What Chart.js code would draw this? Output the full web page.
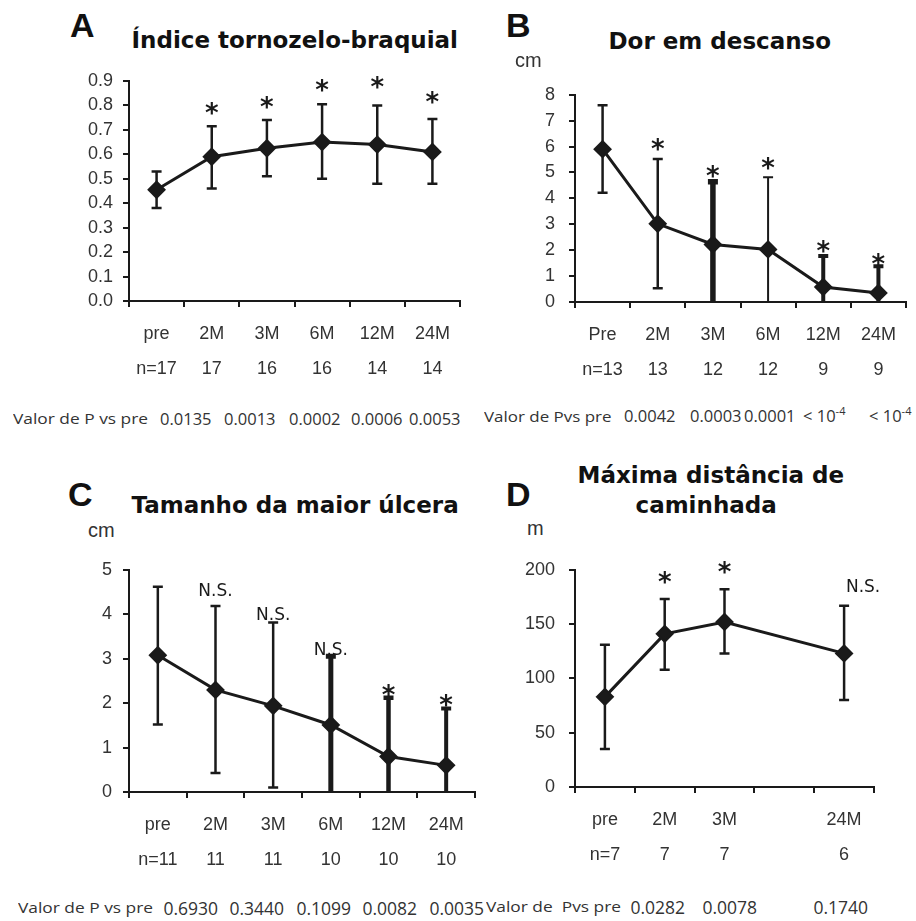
<!DOCTYPE html>
<html>
<head>
<meta charset="utf-8">
<script src="https://cdn.jsdelivr.net/npm/chart.js@4.4.1/dist/chart.umd.min.js"></script>
<style>
  body { margin: 0; background: #fff; width: 916px; height: 921px; position: relative; overflow: hidden; color: #111; }
  canvas { position: absolute; }
  .t { position: absolute; white-space: nowrap; height: 20px; }
  .letter { font: bold 34px/20px "Liberation Sans", Arial, sans-serif; }
  .title { font: bold 23px/20px "DejaVu Sans", sans-serif; }
  .unit { font: 20px/20px "Liberation Sans", Arial, sans-serif; color: #333; }
  .plab { font: 14px/20px "Open Sans", sans-serif; color: #333; transform-origin: left center; }
  .pval { font: 17.5px/20px "Open Sans", sans-serif; color: #333; }
  .pval.small { font-size: 16.5px; }
  .pval sup { font-size: 11px; vertical-align: 7px; line-height: 0; }
</style>
</head>
<body>
<canvas id="chartA" width="430" height="330" style="left:40px;top:60px"></canvas>
<canvas id="chartB" width="426" height="320" style="left:490px;top:70px"></canvas>
<canvas id="chartC" width="445" height="340" style="left:40px;top:545px"></canvas>
<canvas id="chartD" width="400" height="340" style="left:490px;top:545px"></canvas>
<script>
// A - Índice tornozelo-braquial
const catsA = ["pre", "2M", "3M", "6M", "12M", "24M"];
const nA = ["n=17", "17", "16", "16", "14", "14"];
const meanA = [0.455, 0.59, 0.625, 0.65, 0.64, 0.61];
const hiA = [0.53, 0.715, 0.74, 0.805, 0.80, 0.745];
const loA = [0.38, 0.46, 0.51, 0.50, 0.48, 0.48];
const sigA = ["", "*", "*", "*", "*", "*"];
const yTicksA = ["0.0", "0.1", "0.2", "0.3", "0.4", "0.5", "0.6", "0.7", "0.8", "0.9"];
const pA = ["0.0135", "0.0013", "0.0002", "0.0006", "0.0053"];

// B - Dor em descanso
const catsB = ["Pre", "2M", "3M", "6M", "12M", "24M"];
const nB = ["n=13", "13", "12", "12", "9", "9"];
const meanB = [5.9, 3.02, 2.22, 2.03, 0.58, 0.35];
const hiB = [7.6, 5.52, 4.64, 4.82, 1.78, 1.38];
const loB = [4.22, 0.53, 0, 0, 0, 0];
const sigB = ["", "*", "*", "*", "*", "*"];
const yTicksB = ["0", "1", "2", "3", "4", "5", "6", "7", "8"];
const pB = ["0.0042", "0.0003", "0.0001", "&lt; 10<sup>-4</sup>", "&lt; 10<sup>-4</sup>"];

// C - Tamanho da maior úlcera
const catsC = ["pre", "2M", "3M", "6M", "12M", "24M"];
const nC = ["n=11", "11", "11", "10", "10", "10"];
const meanC = [3.08, 2.3, 1.94, 1.51, 0.8, 0.6];
const hiC = [4.62, 4.19, 3.82, 3.06, 2.12, 1.88];
const loC = [1.52, 0.43, 0.1, 0, 0, 0];
const sigC = ["", "N.S.", "N.S.", "N.S.", "*", "*"];
const yTicksC = ["0", "1", "2", "3", "4", "5"];
const pC = ["0.6930", "0.3440", "0.1099", "0.0082", "0.0035"];

// D - Máxima distância de caminhada
const catsD = ["pre", "2M", "3M", "", "24M"];
const nD = ["n=7", "7", "7", "", "6"];
const meanD = [83, 141, 152, null, 123];
const hiD = [131, 173, 182, null, 167];
const loD = [35, 108, 123, null, 80];
const sigD = ["", "*", "*", "", "N.S."];
const yTicksD = ["0", "50", "100", "150", "200"];
const pD = ["0.0282", "0.0078", "0.1740"];

const INK = "#1a1a1a";
const LABEL = "#333";

// error bars under the line, significance marks above them
const marks = {
  id: "marks",
  beforeDatasetsDraw(chart, args, o) {
    const { ctx } = chart;
    const x = chart.scales.x, y = chart.scales.y;
    ctx.save();
    ctx.strokeStyle = INK;
    o.hi.forEach((h, i) => {
      if (h == null) return;
      const px = x.getPixelForValue(i);
      const top = y.getPixelForValue(h);
      const bot = y.getPixelForValue(o.lo[i]);
      ctx.lineWidth = o.widths[i];
      ctx.beginPath();
      ctx.moveTo(px, top); ctx.lineTo(px, bot);
      ctx.moveTo(px - 5, top); ctx.lineTo(px + 5, top);
      if (o.lo[i] > 0) { ctx.moveTo(px - 5, bot); ctx.lineTo(px + 5, bot); }
      ctx.stroke();
    });
    ctx.restore();
  },
  afterDatasetsDraw(chart, args, o) {
    const { ctx } = chart;
    const x = chart.scales.x, y = chart.scales.y;
    ctx.save();
    ctx.fillStyle = INK;
    ctx.textAlign = "center";
    ctx.textBaseline = "alphabetic";
    o.sig.forEach((s, i) => {
      if (!s) return;
      ctx.font = s === "*" ? 'bold 26px "DejaVu Sans"' : '17px "DejaVu Sans"';
      const m = ctx.measureText(s);
      const cx = x.getPixelForValue(i) + (o.dx ? o.dx[i] : 0);
      const cy = y.getPixelForValue(o.hi[i]) - o.gap[i];
      ctx.fillText(s, cx, cy + (m.actualBoundingBoxAscent - m.actualBoundingBoxDescent) / 2);
    });
    ctx.restore();
  }
};

function makeChart(id, c) {
  const yVals = c.yTicks.map(Number);
  return new Chart(document.getElementById(id), {
    type: "line",
    data: {
      labels: c.cats.map((k, i) => [k, c.n[i]]),
      datasets: [{
        data: c.mean,
        borderColor: INK,
        borderWidth: 3,
        pointStyle: "rectRot",
        pointRadius: 8,
        pointBackgroundColor: INK,
        pointBorderColor: INK,
        pointBorderWidth: 2,
        tension: 0,
        spanGaps: true,
        clip: false
      }]
    },
    options: {
      responsive: false,
      animation: false,
      devicePixelRatio: 1,
      layout: { padding: { top: c.padTop, right: c.padRight, left: 0, bottom: 0 } },
      plugins: {
        legend: { display: false },
        tooltip: { enabled: false },
        marks: { hi: c.hi, lo: c.lo, widths: c.widths, sig: c.sig, gap: c.gap, dx: c.dx }
      },
      scales: {
        x: {
          type: "category",
          offset: true,
          grid: { display: true, drawOnChartArea: false, drawTicks: true, tickLength: 6, color: INK, lineWidth: 2, offset: true },
          border: { display: true, color: INK, width: 2 },
          ticks: {
            color: LABEL, padding: 10, autoSkip: false, maxRotation: 0,
            font: { family: '"Liberation Sans", Arial, sans-serif', size: 18, lineHeight: 35 / 18 }
          },
          afterFit(s) { s.height = c.xH; }
        },
        y: {
          min: yVals[0],
          max: yVals[yVals.length - 1],
          grid: { display: true, drawOnChartArea: false, drawTicks: true, tickLength: 6, color: INK, lineWidth: 2 },
          border: { display: true, color: INK, width: 2 },
          afterBuildTicks(s) { s.ticks = yVals.map(v => ({ value: v })); },
          ticks: {
            color: LABEL, padding: c.yPad, autoSkip: false,
            font: { family: '"Liberation Sans", Arial, sans-serif', size: 18 },
            callback: (v, i) => c.yTicks[i]
          },
          afterFit(s) { s.width = c.yW; }
        }
      }
    },
    plugins: [marks]
  });
}

makeChart("chartA", {
  cats: catsA, n: nA, mean: meanA, hi: hiA, lo: loA, sig: sigA, yTicks: yTicksA,
  widths: [2.5, 2.5, 2.5, 2.5, 2.5, 2.5], gap: [0, 18, 18, 19, 23, 21],
  yW: 89, xH: 89, padTop: 21, padRight: 10, yPad: 10
});
makeChart("chartB", {
  cats: catsB, n: nB, mean: meanB, hi: hiB, lo: loB, sig: sigB, yTicks: yTicksB,
  widths: [2.5, 2.5, 5.5, 2, 4, 4], gap: [0, 15, 10, 14, 9, 7],
  yW: 85, xH: 88, padTop: 19, padRight: 1, yPad: 14
});
makeChart("chartC", {
  cats: catsC, n: nC, mean: meanC, hi: hiC, lo: loC, sig: sigC, yTicks: yTicksC,
  widths: [2.5, 2.5, 2.5, 5, 4.5, 4], gap: [0, 16, 9, 8, 7, 8],
  yW: 89, xH: 93, padTop: 25, padRight: 7, yPad: 11
});
makeChart("chartD", {
  cats: catsD, n: nD, mean: meanD, hi: hiD, lo: loD, sig: sigD, yTicks: yTicksD,
  widths: [2.5, 2.5, 2.5, 2.5, 2.5], gap: [0, 22, 22, 0, 20], dx: [0, 0, 0, 0, 19],
  yW: 85, xH: 98, padTop: 23, padRight: 16, yPad: 14
});

// page text: letters, titles, units and P-value rows
function txt(html, cls, x, cy, align, fitW) {
  const el = document.createElement("div");
  el.className = "t " + cls;
  el.innerHTML = html;
  el.style.top = (cy - 10) + "px";
  el.style.left = x + "px";
  document.body.appendChild(el);
  if (align === "center") el.style.left = (x - el.offsetWidth / 2) + "px";
  if (fitW) el.style.transform = "scaleX(" + (fitW / el.offsetWidth) + ")";
  return el;
}

txt("A", "letter", 70, 24.5);
txt("B", "letter", 506, 24.5);
txt("C", "letter", 68, 493.5);
txt("D", "letter", 506, 493.5);

txt("Índice tornozelo-braquial", "title", 295, 39.6, "center");
txt("Dor em descanso", "title", 720, 40.6, "center");
txt("Tamanho da maior úlcera", "title", 295, 504.6, "center");
txt("Máxima distância de", "title", 711, 474.6, "center");
txt("caminhada", "title", 706, 504.6, "center");

txt("cm", "unit", 515, 60);
txt("cm", "unit", 88, 530);
txt("m", "unit", 527, 528);

const pxA = [186, 250, 315, 377, 435];
const pxB = [650, 716, 770, 824, 890];
const pxC = [191, 257, 324, 390, 457];
const pxD = [658, 730, 841];

txt("Valor de P vs pre", "plab", 13, 419, "left", 135);
pA.forEach((p, i) => txt(p, "pval small", pxA[i], 419, "center"));
txt("Valor de Pvs pre", "plab", 484, 417, "left", 127);
pB.forEach((p, i) => txt(p, "pval small", pxB[i], 416, "center"));
txt("Valor de P vs pre", "plab", 18, 908, "left", 135);
pC.forEach((p, i) => txt(p, "pval", pxC[i], 908, "center"));
txt("Valor de &nbsp;Pvs pre", "plab", 486, 907, "left", 135);
pD.forEach((p, i) => txt(p, "pval", pxD[i], 907, "center"));
</script>
</body>
</html>
